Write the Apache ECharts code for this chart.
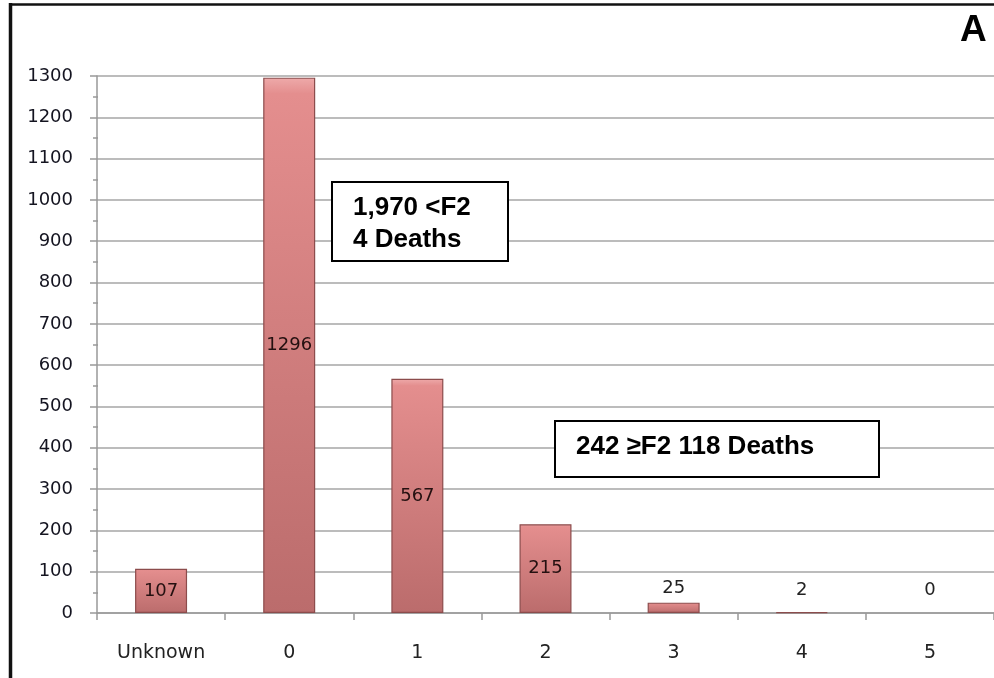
<!DOCTYPE html>
<html>
<head>
<meta charset="utf-8">
<script src="https://cdn.jsdelivr.net/npm/echarts@6/dist/echarts.min.js"></script>
<style>
html,body{margin:0;padding:0;background:#fff;}
#chart{width:994px;height:678px;}
</style>
</head>
<body>
<div id="chart"></div>
<script>
var categories = ['Unknown', '0', '1', '2', '3', '4', '5'];
var counts = [107, 1296, 567, 215, 25, 2, 0];
var yTicks = [0, 100, 200, 300, 400, 500, 600, 700, 800, 900, 1000, 1100, 1200, 1300];
var noteLow = ['1,970 <F2', '4 Deaths'];
var noteHigh = '242 \u2265F2 118 Deaths';
var panelLetter = 'A';

var chart = echarts.init(document.getElementById('chart'));

var barFill = {
  type: 'linear', x: 0, y: 0, x2: 0, y2: 1,
  colorStops: [
    {offset: 0, color: '#eeaaaa'},
    {offset: 0.03, color: '#e48e8e'},
    {offset: 1, color: '#bb6c6c'}
  ]
};

// label placement: inside for tall bars, above for short ones
var labelDistances = {4: 5, 5: 13, 6: 14};
var barData = counts.map(function (v, i) {
  var item = {value: v};
  if (labelDistances[i] !== undefined) {
    item.label = {position: 'top', distance: labelDistances[i], color: '#222'};
  }
  if (v === 0) {
    item.itemStyle = {borderWidth: 0};
  }
  return item;
});

var gridLeft = 97, gridRight = -4;
var gridWidth = 994 - gridLeft - gridRight;

chart.setOption({
  animation: false,
  backgroundColor: '#fff',
  grid: {left: gridLeft, right: gridRight, top: 76, bottom: 65},
  xAxis: {
    type: 'category',
    data: categories,
    axisLine: {show: true, lineStyle: {color: '#999', width: 1.5}},
    axisTick: {show: true, length: 7, lineStyle: {color: '#999', width: 1.5}},
    axisLabel: {
      margin: 31, fontFamily: 'DejaVu Sans', fontSize: 19, color: '#222'
    },
    splitLine: {show: false}
  },
  yAxis: [{
    type: 'value',
    min: yTicks[0],
    max: yTicks[yTicks.length - 1],
    interval: 100,
    axisLine: {show: true, lineStyle: {color: '#999', width: 1.5}},
    axisTick: {show: true, length: 7, lineStyle: {color: '#999', width: 1.5}},
    axisLabel: {
      margin: 24, fontFamily: 'DejaVu Sans', fontSize: 18, color: '#141420',
      formatter: function (v) { return String(v); }
    },
    splitLine: {show: true, lineStyle: {color: '#a6a6a6', width: 1.5}}
  }, {
    type: 'value',
    position: 'right',
    offset: -gridWidth,
    min: yTicks[0],
    max: yTicks[yTicks.length - 1],
    interval: 100,
    axisLine: {show: false},
    axisTick: {show: false},
    minorTick: {show: true, splitNumber: 2, length: 5, lineStyle: {color: '#999', width: 1.5}},
    axisLabel: {show: false},
    splitLine: {show: false}
  }],
  series: [{
    type: 'bar',
    data: barData,
    barWidth: 52,
    itemStyle: {color: barFill, borderColor: '#8c4c4c', borderWidth: 1.2},
    label: {
      show: true,
      position: 'inside',
      fontFamily: 'DejaVu Sans',
      fontSize: 18,
      color: '#241010'
    }
  }],
  graphic: [
    {type: 'line', z: 100, shape: {x1: 10, y1: 4.5, x2: 994, y2: 4.5}, style: {stroke: '#111', lineWidth: 2.5}},
    {type: 'line', z: 100, shape: {x1: 10.5, y1: 3, x2: 10.5, y2: 678}, style: {stroke: '#111', lineWidth: 3.5}},
    {
      type: 'text', z: 100, left: 960, top: 12,
      style: {text: panelLetter, font: 'bold 37px "Liberation Sans", Arial', fill: '#000'}
    },
    {
      type: 'group', z: 100, left: 331, top: 181,
      children: [
        {type: 'rect', z: 100, shape: {x: 0, y: 0, width: 176, height: 79},
         style: {fill: '#fff', stroke: '#000', lineWidth: 2}},
        {type: 'text', z: 101, x: 21, y: 10,
         style: {text: noteLow.join('\n'), font: 'bold 26px "Liberation Sans", Arial', lineHeight: 32, fill: '#000'}}
      ]
    },
    {
      type: 'group', z: 100, left: 554, top: 420,
      children: [
        {type: 'rect', z: 100, shape: {x: 0, y: 0, width: 324, height: 56},
         style: {fill: '#fff', stroke: '#000', lineWidth: 2}},
        {type: 'text', z: 101, x: 21, y: 13,
         style: {text: noteHigh, font: 'bold 26px "Liberation Sans", Arial', fill: '#000'}}
      ]
    }
  ]
});
</script>
</body>
</html>
